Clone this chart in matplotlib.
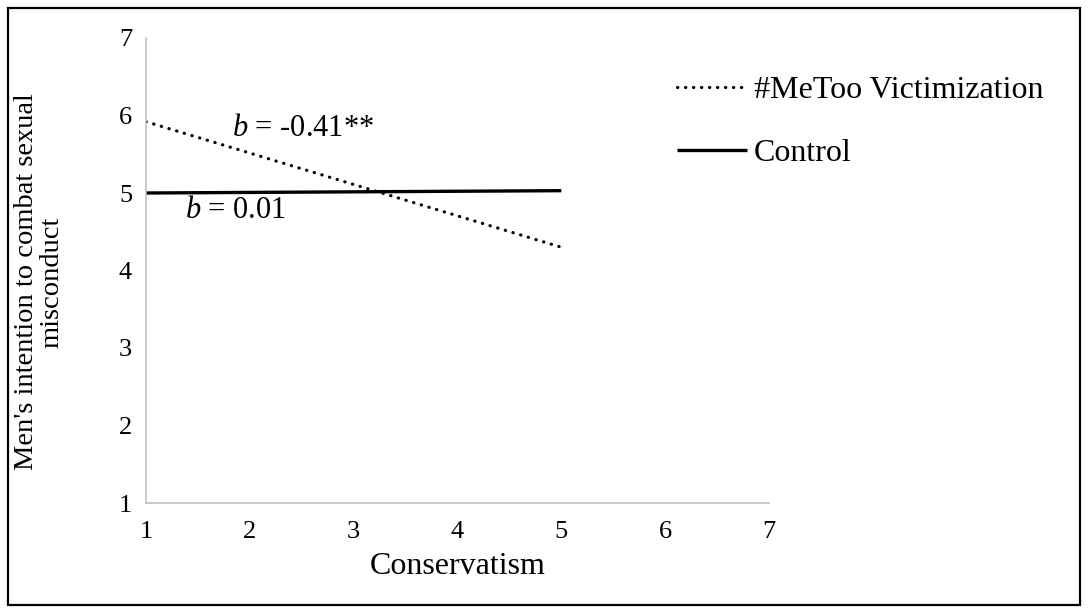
import matplotlib
matplotlib.use("Agg")
import matplotlib.pyplot as plt
from matplotlib.patches import Rectangle

plt.rcParams['font.family'] = ['Liberation Serif', 'DejaVu Serif']
plt.rcParams['mathtext.fontset'] = 'custom'
plt.rcParams['mathtext.rm'] = 'Liberation Serif'
plt.rcParams['mathtext.it'] = 'Liberation Serif:italic'

# simple slopes at conservatism 1 and 5
x_vals = [1, 5]
metoo = [5.92, 4.30]
control = [5.00, 5.03]
series_names = ['#MeToo Victimization', 'Control']
x_ticks = [1, 2, 3, 4, 5, 6, 7]
y_ticks = [1, 2, 3, 4, 5, 6, 7]

W, H = 1088, 613
fig = plt.figure(figsize=(W / 100, H / 100), dpi=100)
ax = fig.add_axes([146 / W, 1 - 503 / H, (769 - 146) / W, (503 - 38) / H])

ax.plot(x_vals, metoo, color='black', lw=2.3, linestyle=(0, (0.1, 2.4)),
        dash_capstyle='round', label=series_names[0])
ax.plot(x_vals, control, color='black', lw=2.4, solid_capstyle='butt',
        label=series_names[1])

ax.set_xlim(1, 7)
ax.set_ylim(1, 7)
ax.set_xticks(x_ticks)
ax.set_yticks(y_ticks)
ax.tick_params(length=0, labelsize=19)
ax.tick_params(axis='x', pad=13)
ax.tick_params(axis='y', pad=10)
for s in ['top', 'right']:
    ax.spines[s].set_visible(False)
for s in ['left', 'bottom']:
    ax.spines[s].set_color('#c0c0c0')
    ax.spines[s].set_linewidth(1.2)

ax.set_xlabel('Conservatism', fontsize=23, va='center')
ax.xaxis.set_label_coords(0.5, (503 - 567) / (503 - 38))
ax.set_ylabel("Men's intention to combat sexual\nmisconduct", fontsize=20.5,
              linespacing=1.0, va='center')
ax.yaxis.set_label_coords((39 - 146) / (769 - 146), (503 - 282) / (503 - 38))

ax.text(232 / W, 1 - 128 / H, '$b$ = -0.41**', transform=fig.transFigure,
        fontsize=22, va='center', ha='left')
ax.text(185 / W, 1 - 210 / H, '$b$ = 0.01', transform=fig.transFigure,
        fontsize=22, va='center', ha='left')

fig.legend(loc='upper left', bbox_to_anchor=(677 / W, 1 - 76 / H),
           frameon=False, fontsize=23, handlelength=2.2, handletextpad=0.2,
           labelspacing=1.04, borderpad=0, borderaxespad=0)

fig.patches.append(Rectangle((8 / W, 8 / H), (1080 - 8) / W, (605 - 8) / H,
                             transform=fig.transFigure, fill=False,
                             edgecolor='black', lw=1.6))

fig.savefig('out.png', dpi=100)
